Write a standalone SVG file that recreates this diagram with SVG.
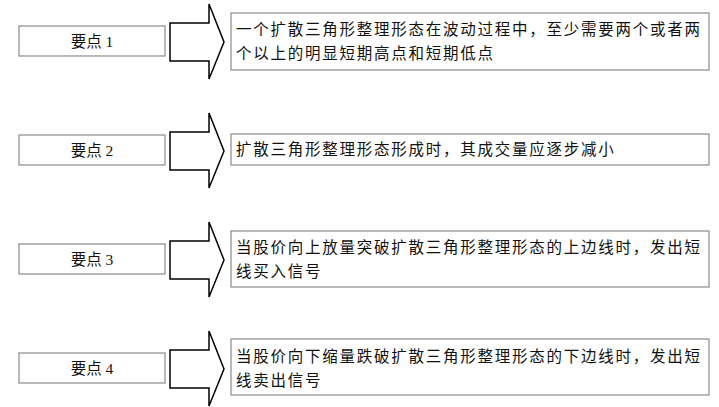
<svg xmlns="http://www.w3.org/2000/svg" width="719" height="407" viewBox="0 0 719 407">
<defs>
<style>
.bg{fill:#ffffff}
.box{fill:#ffffff;stroke:#8a8a8a;stroke-width:1.2}
.arrow{fill:#ffffff;stroke:#000000;stroke-width:1.5;stroke-linejoin:miter}
.lbl{font-family:"Liberation Serif","Noto Sans CJK SC",serif;font-size:15.5px;fill:#111;text-anchor:middle}
.txt{font-family:"Liberation Serif","Noto Sans CJK SC",serif;font-size:15.5px;fill:#111;letter-spacing:1.75px}
</style>
<polygon id="arr" class="arrow" points="170,23 209,23 209,4 224,42 209,79 209,61 170,61"/>
</defs>
<rect class="bg" x="0" y="0" width="719" height="407"/>

<g id="connectors">
<use href="#arr"/>
<use href="#arr" transform="translate(0,109)"/>
<use href="#arr" transform="translate(0,218)"/>
<use href="#arr" transform="translate(0,327)"/>
</g>

<g id="node-point1">
<rect class="box" x="19" y="26" width="146" height="30"/>
<text class="lbl" x="92" y="46.5">要点 1</text>
</g>
<g id="node-desc1">
<rect class="box" x="231" y="13" width="478" height="57"/>
<text class="txt" x="236" y="35">一个扩散三角形整理形态在波动过程中，至少需要两个或者两</text>
<text class="txt" x="236" y="58.5">个以上的明显短期高点和短期低点</text>
</g>

<g id="node-point2">
<rect class="box" x="19" y="135" width="146" height="30"/>
<text class="lbl" x="92" y="155.5">要点 2</text>
</g>
<g id="node-desc2">
<rect class="box" x="231" y="134" width="478" height="31"/>
<text class="txt" x="236" y="155">扩散三角形整理形态形成时，其成交量应逐步减小</text>
</g>

<g id="node-point3">
<rect class="box" x="19" y="244" width="146" height="30"/>
<text class="lbl" x="92" y="264.5">要点 3</text>
</g>
<g id="node-desc3">
<rect class="box" x="231" y="231" width="478" height="56"/>
<text class="txt" x="236" y="253">当股价向上放量突破扩散三角形整理形态的上边线时，发出短</text>
<text class="txt" x="236" y="276.5">线买入信号</text>
</g>

<g id="node-point4">
<rect class="box" x="19" y="353" width="146" height="30"/>
<text class="lbl" x="92" y="373.5">要点 4</text>
</g>
<g id="node-desc4">
<rect class="box" x="231" y="339" width="478" height="56"/>
<text class="txt" x="236" y="362">当股价向下缩量跌破扩散三角形整理形态的下边线时，发出短</text>
<text class="txt" x="236" y="385.5">线卖出信号</text>
</g>
</svg>
